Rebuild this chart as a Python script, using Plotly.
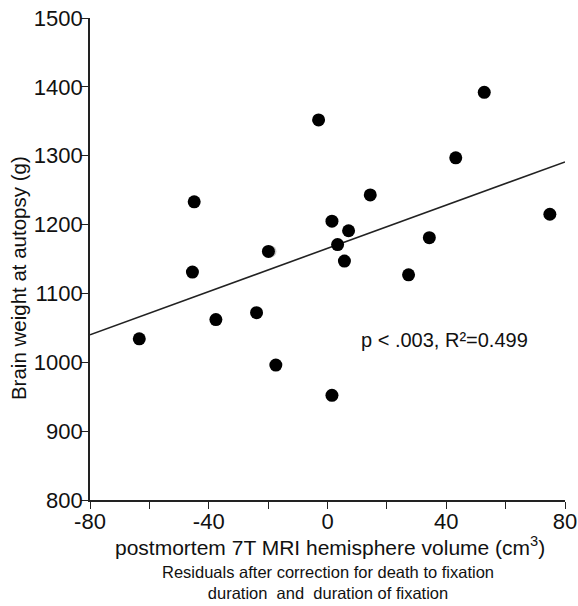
import plotly.graph_objects as go

# Residual hemisphere volume (cm^3) vs brain weight at autopsy (g)
volume_resid = [-63.4, -44.9, -45.5, -37.6, -23.9, -19.9, -17.4, -3.0, 1.5, 3.4,
                5.7, 7.1, 1.5, 14.4, 27.3, 34.3, 43.2, 52.8, 74.9]
brain_weight = [1034, 1233, 1131, 1062, 1072, 1161, 996, 1352, 1205, 1171,
                1147, 1191, 952, 1243, 1127, 1181, 1297, 1392, 1215]

# faint overlapping point
ghost_x = [-19.2]
ghost_y = [1161]

# regression line
fit_x = [-80, 80]
fit_y = [1040, 1291]

x_ticks = [-80, -60, -40, -20, 0, 20, 40, 60, 80]
x_labels = ["-80", "", "-40", "", "0", "", "40", "", "80"]
y_ticks = [800, 900, 1000, 1100, 1200, 1300, 1400, 1500]

stat_text = "p < .003, R²=0.499"
x_title = "postmortem 7T MRI hemisphere volume (cm<sup>3</sup>)"
y_title = "Brain weight at autopsy (g)"
subtitle = "Residuals after correction for death to fixation<br>duration  and  duration of fixation"

FONT = "Liberation Sans, Arial, sans-serif"

fig = go.Figure()
fig.add_trace(go.Scatter(x=fit_x, y=fit_y, mode="lines",
                         line=dict(color="#222222", width=1.6),
                         hoverinfo="skip", showlegend=False))
fig.add_trace(go.Scatter(x=ghost_x, y=ghost_y, mode="markers",
                         marker=dict(size=12, color="#c8c8c8"),
                         showlegend=False, cliponaxis=False))
fig.add_trace(go.Scatter(x=volume_resid, y=brain_weight, mode="markers",
                         marker=dict(size=13, color="#000000"),
                         showlegend=False, cliponaxis=False))

fig.add_annotation(x=39.5, y=1032, text=stat_text, showarrow=False,
                   xanchor="center", yanchor="middle",
                   font=dict(family=FONT, size=20, color="#111111"))
fig.add_annotation(x=0.506, y=-0.064, xref="paper", yref="paper", text=x_title,
                   showarrow=False, xanchor="center", yanchor="top",
                   font=dict(family=FONT, size=21, color="#111111"))
fig.add_annotation(x=0.5, y=-0.127, xref="paper", yref="paper", text=subtitle,
                   showarrow=False, xanchor="center", yanchor="top",
                   font=dict(family=FONT, size=16.5, color="#111111"))
fig.add_annotation(x=-0.152, y=0.46, xref="paper", yref="paper", text=y_title,
                   showarrow=False, textangle=-90, xanchor="center", yanchor="middle",
                   font=dict(family=FONT, size=20.5, color="#111111"))

fig.update_layout(
    width=578, height=606,
    margin=dict(l=90, r=13, t=18, b=106),
    paper_bgcolor="white", plot_bgcolor="white",
    font=dict(family=FONT, color="#111111"),
    xaxis=dict(range=[-80, 80], tickvals=x_ticks, ticktext=x_labels,
               automargin=False, ticklabeloverflow="allow", ticklabelstandoff=-6,
               showgrid=False, zeroline=False, showline=True,
               linecolor="#222222", linewidth=1.6,
               ticks="outside", ticklen=7, tickwidth=1.4, tickcolor="#222222",
               tickfont=dict(size=22, family=FONT, color="#111111")),
    yaxis=dict(range=[800, 1500], tickvals=y_ticks,
               automargin=False, ticklabeloverflow="allow", ticklabelstandoff=-6,
               showgrid=False, zeroline=False, showline=True,
               linecolor="#222222", linewidth=1.6,
               ticks="outside", ticklen=7, tickwidth=1.4, tickcolor="#222222",
               tickfont=dict(size=22, family=FONT, color="#111111")),
)

fig.write_html("out.html", config={"displayModeBar": False},
               post_script="document.body.style.margin='0';document.body.style.overflow='hidden';")
